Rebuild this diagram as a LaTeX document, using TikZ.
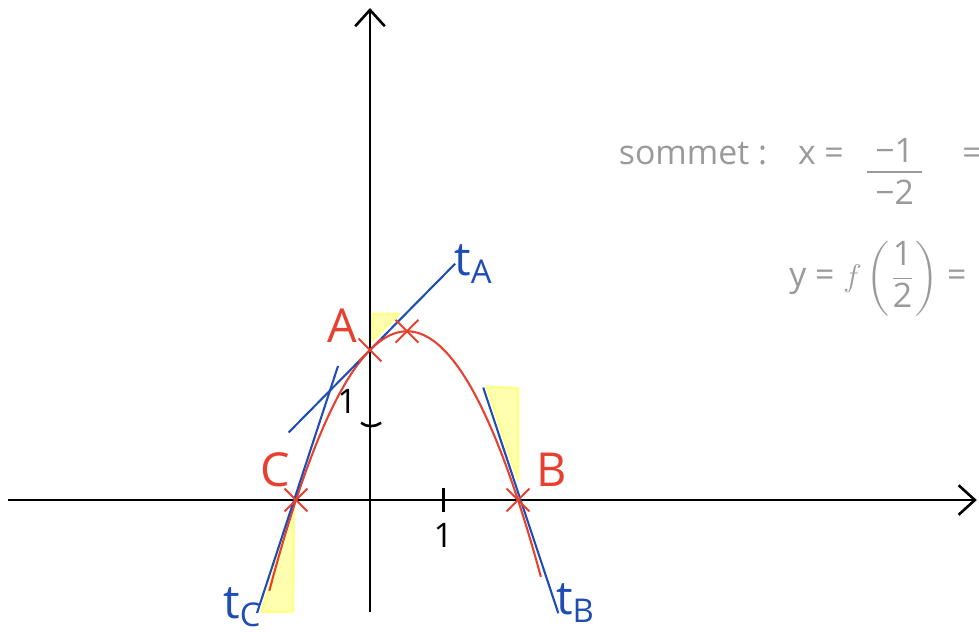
\documentclass[tikz,border=0pt]{standalone}
\usepackage{fontspec}
\setmainfont{Open Sans}
\usepackage{amsmath}
\usetikzlibrary{arrows.meta,shapes.misc,calc}
\definecolor{crayonred}{HTML}{E8402F}
\definecolor{crayonblue}{HTML}{1F4DB5}
\definecolor{pencil}{HTML}{9A9A9A}
\definecolor{marker}{HTML}{FFFF8C}

\begin{document}
\begin{tikzpicture}[x=1cm,y=1.0135cm,font=\fontsize{18}{20}\selectfont,
    xmark/.style={crayonred,draw,cross out,thick,minimum size=0.28cm,inner sep=0pt},
    tangent/.style={crayonblue,line width=0.8pt},
    hl/.style={fill=marker!70,draw=marker,line width=1pt,line join=round},
    note/.style={pencil,font=\fontsize{13}{15}\selectfont}]
  \clip (-5,-1.747) rectangle (8.23,6.667);
  \coordinate (A) at (0,2);
  \coordinate (B) at (2,0);
  \coordinate (C) at (-1,0);
  \coordinate (S) at (0.5,2.25);
  % slope triangles
  \filldraw[hl] (0.03,2.13) -- (0.03,2.48) -- (0.39,2.48) -- cycle;
  \filldraw[hl] (1.58,1.51) -- (2.0,1.49) -- (2.0,0.27) -- cycle;
  \filldraw[hl] (-1.46,-1.49) -- (-1.04,-1.49) -- (-1.03,-0.04) -- cycle;
  % axes
  \draw[line width=1pt,-{Straight Barb[length=2.2mm,width=4mm]}] (-4.89,0) -- (8.2,0);
  \draw[line width=1pt,-{Straight Barb[length=2.2mm,width=4mm]}] (0,-1.49) -- (0,6.56);
  \draw[line width=1pt] (0.99,-0.16) -- (0.99,0.16);
  \draw[line width=1pt] (-0.12,1.03) .. controls (-0.05,0.97) and (0.07,0.97) .. (0.15,1.03);
  \node[font=\fontsize{13}{15}\selectfont] (one-x) at (0.99,-0.47) {1};
  \node[font=\fontsize{13}{15}\selectfont] (one-y) at (-0.31,1.31) {1};
  % curve and tangents
  \draw[crayonred,line width=0.8pt] plot[domain=-1.36:2.31,smooth,samples=60] (\x,{-\x*\x+\x+2});
  \draw[tangent] ($(A)+(-1.1,-1.1)$) -- ($(A)+(1.15,1.15)$);
  \draw[tangent] ($(B)+(-0.47,1.5)$) -- ($(B)+(0.545,-1.51)$);
  \draw[tangent] ($(C)+(-0.527,-1.507)$) -- ($(C)+(0.568,1.787)$);
  \node[xmark] at (A) {};
  \node[xmark] at (B) {};
  \node[xmark] at (C) {};
  \node[xmark] at (S) {};
  \node[crayonred] (labA) at (-0.37,2.33) {A};
  \node[crayonred] (labB) at (2.45,0.4) {B};
  \node[crayonred] (labC) at (-1.28,0.4) {C};
  \node[crayonblue] (labtA) at (1.4,3.15) {t\textsubscript{A}};
  \node[crayonblue] (labtB) at (2.78,-1.37) {t\textsubscript{B}};
  \node[crayonblue] (labtC) at (-1.72,-1.43) {t\textsubscript{C}};
  % vertex notes
  \node[note,anchor=base west] (sommet) at (3.24,4.47) {sommet :};
  \node[note,anchor=base west] (xeq) at (5.66,4.47) {x =};
  \node[note,inner sep=1pt] (num) at (7.09,4.66) {−1};
  \draw[pencil,line width=0.8pt] (6.72,4.37) -- (7.46,4.37);
  \node[note,inner sep=1pt] (den) at (7.09,4.1) {−2};
  \node[note,anchor=base west] (xeq2) at (7.88,4.47) {=};
  \node[note,anchor=west,inner sep=0pt] (yeq) at (5.66,2.95) {y = $f\left(\dfrac{\text{1}}{\text{2}}\right)$ =};
\end{tikzpicture}
\end{document}
